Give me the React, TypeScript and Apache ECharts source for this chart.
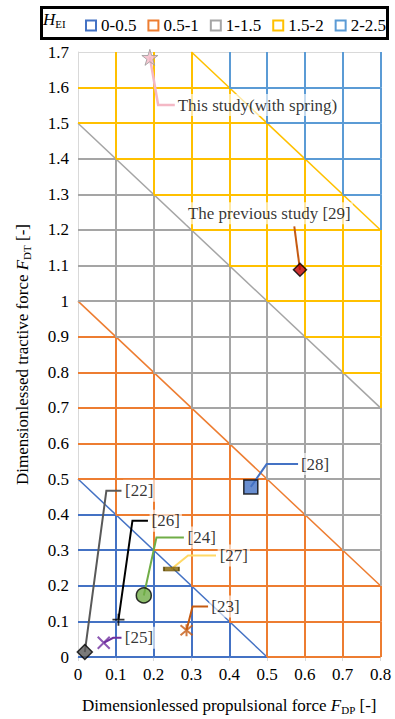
import React, { useEffect, useRef } from "react";
import * as echarts from "echarts";

const FONT = "'Liberation Serif', 'Times New Roman', serif";

// ---- axes ----
const xTicks = [0, 0.1, 0.2, 0.3, 0.4, 0.5, 0.6, 0.7, 0.8];
const yTicks = [0, 0.1, 0.2, 0.3, 0.4, 0.5, 0.6, 0.7, 0.8, 0.9, 1, 1.1, 1.2, 1.3, 1.4, 1.5, 1.6, 1.7];

// ---- H_EI regions (x + y) ----
const regionNames = ["0-0.5", "0.5-1", "1-1.5", "1.5-2", "2-2.5"];
const regionBounds = [0.5, 1, 1.5, 2, 2.5];
const regionColors = ["#4472C4", "#ED7D31", "#A5A5A5", "#FFC000", "#5B9BD5"];

// ---- studies ----
const studies = [
  "This study(with spring)",
  "The previous study [29]",
  "[28]",
  "[22]",
  "[26]",
  "[24]",
  "[27]",
  "[23]",
  "[25]",
];
const fdp = [0.19, 0.587, 0.457, 0.018, 0.107, 0.174, 0.247, 0.287, 0.068];
const fdt = [1.685, 1.088, 0.478, 0.014, 0.105, 0.173, 0.247, 0.075, 0.04];

// ---- layout of leader lines / labels (data units) ----
const leaderBends = [
  [[0.212, 1.551], [0.256, 1.551]],
  [[0.572, 1.21]],
  [[0.499, 0.542], [0.582, 0.542]],
  [[0.075, 0.467], [0.115, 0.467]],
  [[0.144, 0.383], [0.185, 0.383]],
  [[0.2075, 0.336], [0.28, 0.336]],
  [[0.291, 0.285], [0.365, 0.285]],
  [[0.303, 0.142], [0.344, 0.142]],
  [[0.093, 0.054], [0.115, 0.054]],
];
const labelAnchors = [
  [0.257, 1.551],
  [0.284, 1.247],
  [0.583, 0.542],
  [0.118, 0.467],
  [0.188, 0.383],
  [0.283, 0.336],
  [0.368, 0.285],
  [0.346, 0.142],
  [0.117, 0.054],
];
const leaderColors = ["#F4B8C5", "#C55A11", "#4472C4", "#595959", "#000000", "#70AD47", "#FFD966", "#C55A11", "#7030A0"];

const STAR = "path://M50,0 L61,35 L98,35 L68,57 L79,91 L50,70 L21,91 L32,57 L2,35 L39,35 Z";
const PLUS = "path://M5,0L5,10M0,5L10,5";
const XMARK = "path://M0,0L10,10M10,0L0,10";
const ASTER = "path://M0,0L10,10M10,0L0,10M5,-1L5,11";

const markerStyles: any[] = [
  { symbol: STAR, symbolSize: 16, itemStyle: { color: "#F4B8C5", borderColor: "#9A9A9A", borderWidth: 1 } },
  { symbol: "diamond", symbolSize: 13, itemStyle: { color: "#C00000", borderColor: "#000", borderWidth: 1.5 } },
  { symbol: "rect", symbolSize: 14, itemStyle: { color: "#4472C4", borderColor: "#000", borderWidth: 1.5 } },
  { symbol: "diamond", symbolSize: 15, itemStyle: { color: "#595959", borderColor: "#000", borderWidth: 1.5 } },
  { symbol: PLUS, symbolSize: 12, itemStyle: { color: "rgba(0,0,0,0)", borderColor: "#000", borderWidth: 1.8 } },
  { symbol: "circle", symbolSize: 15, itemStyle: { color: "#70AD47", borderColor: "#000", borderWidth: 1.5 } },
  { symbol: "rect", symbolSize: [15, 4], itemStyle: { color: "#7F6000", borderColor: "#5A4400", borderWidth: 1 } },
  { symbol: ASTER, symbolSize: 12, itemStyle: { color: "rgba(0,0,0,0)", borderColor: "#C55A11", borderWidth: 2 } },
  { symbol: XMARK, symbolSize: 12, itemStyle: { color: "rgba(0,0,0,0)", borderColor: "#7030A0", borderWidth: 2 } },
];

function regionOf(s: number) {
  for (let k = 0; k < regionBounds.length; k++) if (s < regionBounds[k]) return k;
  return regionBounds.length - 1;
}

function buildGridSegments() {
  const segs: any[][] = regionNames.map(() => []);
  const xMax = xTicks[xTicks.length - 1];
  const yMax = yTicks[yTicks.length - 1];
  // vertical lines (skip x = 0)
  for (let i = 1; i < xTicks.length; i++) {
    for (let j = 0; j < yTicks.length - 1; j++) {
      const x = xTicks[i];
      const r = regionOf(x + (yTicks[j] + yTicks[j + 1]) / 2);
      segs[r].push({ coords: [[x, yTicks[j]], [x, yTicks[j + 1]]] });
    }
  }
  // horizontal lines (skip top)
  for (let j = 0; j < yTicks.length - 1; j++) {
    for (let i = 0; i < xTicks.length - 1; i++) {
      const y = yTicks[j];
      const r = regionOf(y + (xTicks[i] + xTicks[i + 1]) / 2);
      segs[r].push({ coords: [[xTicks[i], y], [xTicks[i + 1], y]] });
    }
  }
  // diagonal boundaries x + y = b
  for (let k = 0; k < regionBounds.length - 1; k++) {
    const b = regionBounds[k];
    const x0 = Math.max(0, b - yMax);
    const x1 = Math.min(xMax, b);
    if (x1 <= x0) continue;
    segs[k].push({ coords: [[x0, b - x0], [x1, b - x1]], lineStyle: { width: 1.5 } });
  }
  return segs;
}

export default function App() {
  const ref = useRef<HTMLDivElement>(null);
  useEffect(() => {
    if (!ref.current) return;
    const chart = echarts.init(ref.current, null, { renderer: "svg" });
    const segs = buildGridSegments();

    const gridSeries = regionNames.map((n, k) => ({
      type: "lines",
      name: n,
      coordinateSystem: "cartesian2d",
      polyline: false,
      silent: true,
      z: 2,
      lineStyle: { color: regionColors[k], width: 2, opacity: 1, curveness: 0 },
      data: segs[k],
    }));

    const leaders = {
      type: "lines",
      name: "leaders",
      coordinateSystem: "cartesian2d",
      polyline: true,
      silent: true,
      z: 3,
      lineStyle: { width: 2, opacity: 1 },
      data: studies.map((s, i) => ({
        coords: [[fdp[i], fdt[i]], ...leaderBends[i]],
        lineStyle: { color: leaderColors[i], width: i === 0 ? 2.5 : 2, opacity: 1 },
      })),
    };

    const markers = {
      type: "scatter",
      name: "markers",
      silent: true,
      z: 4,
      data: studies.map((s, i) => ({ name: s, value: [fdp[i], fdt[i]], ...markerStyles[i] })),
    };

    const labels = {
      type: "scatter",
      name: "labels",
      silent: true,
      z: 5,
      symbolSize: 1,
      itemStyle: { color: "rgba(0,0,0,0)" },
      label: {
        show: true,
        position: "right",
        distance: 0,
        formatter: "{b}",
        fontSize: 17,
        fontFamily: FONT,
        color: "#000",
        backgroundColor: "rgba(255,255,255,0.8)",
        padding: [3, 2, 2, 2],
      },
      data: studies.map((s, i) => ({ name: s, value: labelAnchors[i] })),
    };

    const nameRich = {
      i: { fontStyle: "italic", fontSize: 17, fontFamily: FONT, color: "#000", lineHeight: 20 },
      s: { fontSize: 11, fontFamily: FONT, color: "#000", lineHeight: 12, verticalAlign: "bottom" },
    };

    chart.setOption({
      animation: false,
      textStyle: { fontFamily: FONT },
      grid: { left: 78, right: 14.5, top: 52, bottom: 62, outerBoundsMode: "none", containLabel: false },
      legend: {
        left: 80,
        top: 12,
        itemWidth: 10,
        itemHeight: 10,
        itemGap: 11,
        selectedMode: false,
        textStyle: { fontSize: 17, fontFamily: FONT, color: "#000" },
        data: regionNames.map((n, k) => ({
          name: n,
          icon: "rect",
          itemStyle: { color: "#fff", borderColor: regionColors[k], borderWidth: 2 },
        })),
      },
      graphic: [
        {
          type: "rect",
          left: 39,
          top: 5,
          shape: { width: 346, height: 31 },
          style: { fill: "none", stroke: "#000", lineWidth: 3 },
          z: 10,
        },
        {
          type: "text",
          left: 43,
          top: 11,
          style: {
            text: "{h|H}{s|EI}",
            rich: {
              h: { fontStyle: "italic", fontSize: 17, fontFamily: FONT, fill: "#000", lineHeight: 20 },
              s: { fontSize: 11, fontFamily: FONT, fill: "#000", lineHeight: 12, verticalAlign: "bottom" },
            },
          },
          z: 10,
        },
      ],
      xAxis: {
        type: "value",
        min: 0,
        max: 0.8,
        interval: 0.1,
        name: "Dimensionlessed propulsional force {i|F}{s|DP} [-]",
        nameLocation: "middle",
        nameGap: 38,
        nameTextStyle: { fontSize: 17, fontFamily: FONT, color: "#000", rich: nameRich },
        axisLine: { show: true, lineStyle: { color: "#D9D9D9", width: 1 } },
        axisTick: { show: true, length: 4, lineStyle: { color: "#D9D9D9" } },
        axisLabel: { fontSize: 17, fontFamily: FONT, color: "#000", margin: 9 },
        splitLine: { show: true, lineStyle: { color: "#D9D9D9", width: 1 } },
      },
      yAxis: {
        type: "value",
        min: 0,
        max: 1.7,
        interval: 0.1,
        name: "Dimensionlessed tractive force {i|F}{s|DT} [-]",
        nameLocation: "middle",
        nameGap: 46,
        nameTextStyle: { fontSize: 17, fontFamily: FONT, color: "#000", rich: nameRich },
        axisLine: { show: true, lineStyle: { color: "#D9D9D9", width: 1 } },
        axisTick: { show: false },
        axisLabel: { fontSize: 17, fontFamily: FONT, color: "#000", margin: 9 },
        splitLine: { show: true, lineStyle: { color: "#D9D9D9", width: 1 } },
      },
      series: [...gridSeries, leaders, markers, labels],
    });
    return () => chart.dispose();
  }, []);
  return <div ref={ref} style={{ position: "fixed", left: 0, top: 0, width: 395, height: 719, background: "#fff" }} />;
}
